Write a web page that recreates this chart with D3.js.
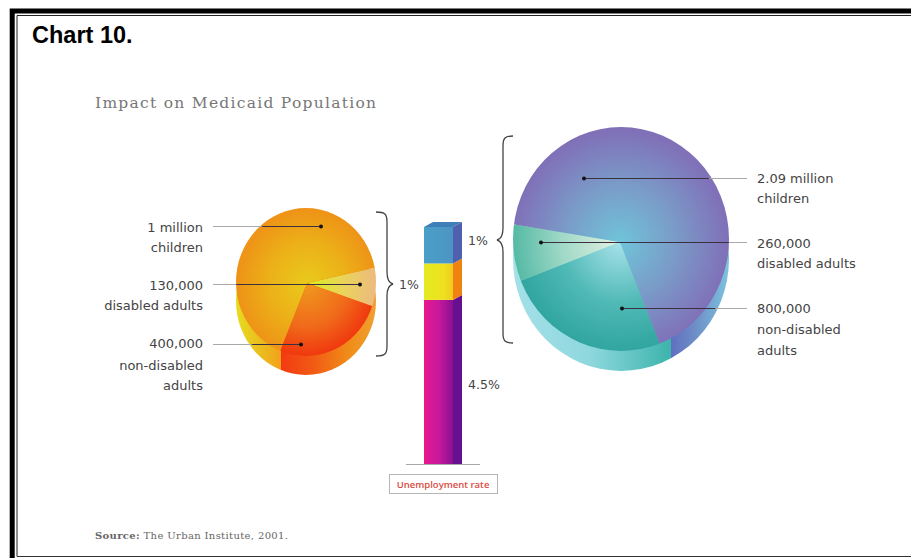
<!DOCTYPE html>
<html>
<head>
<meta charset="utf-8">
<script src="https://cdn.jsdelivr.net/npm/d3@7/dist/d3.min.js"></script>
<style>
html,body{margin:0;padding:0;background:#fff;}
svg{display:block;}
</style>
</head>
<body>
<svg id="chart" width="911" height="558"></svg>
<script>
// Medicaid population figures for each scenario, and the unemployment stack.
const leftPieOrder = ["disabled adults", "non-disabled adults", "children"];
const rightPieOrder = ["non-disabled adults", "disabled adults", "children"];
const leftPieValues = { "children": 1000000, "disabled adults": 130000, "non-disabled adults": 400000 };
const rightPieValues = { "children": 2090000, "disabled adults": 260000, "non-disabled adults": 800000 };
const barValues = [4.5, 1, 1];
const barLabels = [["4.5%", 468, 389], ["1%", 399, 289], ["1%", 468, 245]];
const leftLabels = [
  { lines: ["1 million", "children"], baselines: [232, 252], dot: [321, 226] },
  { lines: ["130,000", "disabled adults"], baselines: [290, 310], dot: [360, 284] },
  { lines: ["400,000", "non-disabled", "adults"], baselines: [348, 370, 390], dot: [301, 344] }
];
const rightLabels = [
  { lines: ["2.09 million", "children"], baselines: [183, 203], dot: [584, 178] },
  { lines: ["260,000", "disabled adults"], baselines: [248, 268], dot: [541, 242] },
  { lines: ["800,000", "non-disabled", "adults"], baselines: [313, 334, 355], dot: [622, 308] }
];

const svg = d3.select("#chart");
const defs = svg.append("defs");

// Page frame: heavy rule with a fine inner rule, open on the right.
svg.append("path").attr("d", "M12.2,558V11H911").attr("fill", "none").attr("stroke", "#000").attr("stroke-width", 5);
svg.append("path").attr("d", "M17,556.5V15.5H911").attr("fill", "none").attr("stroke", "#222").attr("stroke-width", 1);
svg.append("path").attr("d", "M17,556.5H911").attr("fill", "none").attr("stroke", "#333").attr("stroke-width", 1);

const sans = "'Liberation Sans', Arial, sans-serif";
const serif = "'DejaVu Serif', serif";
const labelFont = "'DejaVu Sans', sans-serif";

svg.append("text").text("Chart 10.").attr("x", 32).attr("y", 43)
  .attr("font-family", sans).attr("font-weight", 700).attr("font-size", 23.5).attr("fill", "#000");
svg.append("text").text("Impact on Medicaid Population").attr("x", 95).attr("y", 108)
  .attr("font-family", serif).attr("font-size", 15.5).attr("fill", "#777").attr("textLength", 281);
const src = svg.append("text").attr("x", 95).attr("y", 539)
  .attr("font-family", serif).attr("font-size", 10).attr("fill", "#666").attr("textLength", 193);
src.append("tspan").text("Source:").attr("font-weight", 700);
src.append("tspan").text(" The Urban Institute, 2001.");

function radial(id, r, stops) {
  const g = defs.append("radialGradient").attr("id", id).attr("gradientUnits", "userSpaceOnUse")
    .attr("cx", 0).attr("cy", 0).attr("r", r);
  stops.forEach(s => g.append("stop").attr("offset", s[0]).attr("stop-color", s[1]));
}
function linear(id, x1, x2, stops) {
  const g = defs.append("linearGradient").attr("id", id).attr("gradientUnits", "userSpaceOnUse")
    .attr("x1", x1).attr("x2", x2).attr("y1", 0).attr("y2", 0);
  stops.forEach(s => g.append("stop").attr("offset", s[0]).attr("stop-color", s[1]));
}

// Extruded pie: a shifted rim oval, then the slices fanned from an off-centre apex and clipped to the face.
function drawPie(cfg) {
  const g = svg.append("g");
  const slug = k => cfg.id + k.replace(/\W/g, "");

  linear(cfg.id + "Rim", cfg.cx - cfg.rx, cfg.cx + cfg.rx, cfg.rim);
  g.append("ellipse").attr("cx", cfg.cx).attr("cy", cfg.cy + cfg.depth).attr("rx", cfg.rx).attr("ry", cfg.ry)
    .attr("fill", `url(#${cfg.id}Rim)`);

  defs.append("clipPath").attr("id", cfg.id + "Face").append("ellipse")
    .attr("cx", cfg.cx).attr("cy", cfg.cy).attr("rx", cfg.rx).attr("ry", cfg.ry);
  defs.append("clipPath").attr("id", cfg.id + "Solid").append("ellipse")
    .attr("cx", cfg.cx).attr("cy", cfg.cy + cfg.depth / 2).attr("rx", cfg.rx).attr("ry", cfg.ry + cfg.depth / 2);

  const pie = d3.pie().sort(null).value(d => d.value)
    .startAngle(cfg.start).endAngle(cfg.start + 2 * Math.PI);
  const arcs = pie(cfg.order.map(k => ({ key: k, value: cfg.values[k] })));
  const arc = d3.arc().innerRadius(0).outerRadius(130);

  Object.entries(cfg.grads).forEach(([k, stops]) => radial(slug(k), 100, stops));

  g.append("g").attr("clip-path", `url(#${cfg.id}Face)`)
    .append("g").attr("transform", `translate(${cfg.ax},${cfg.ay}) scale(${cfg.rx / 100},${cfg.ry / 100})`)
    .selectAll("path").data(arcs).join("path")
    .attr("d", arc)
    .attr("fill", d => `url(#${slug(d.data.key)})`);

  cfg.labels.forEach(l => {
    const [dx, dy] = l.dot;
    const leader = () => g.append("line").attr("x1", cfg.lineEnd).attr("x2", dx)
      .attr("y1", dy + .5).attr("y2", dy + .5).attr("stroke-width", 1);
    leader().attr("stroke", "#aaa");
    // Leader lines turn dark where they cross the pie.
    leader().attr("stroke", "#3a3040").attr("clip-path", `url(#${cfg.id}Solid)`);
    g.append("circle").attr("cx", dx).attr("cy", dy + .5).attr("r", 2).attr("fill", "#111");
    g.selectAll(null).data(l.lines).join("text").text(d => d)
      .attr("x", cfg.textX).attr("y", (d, i) => l.baselines[i])
      .attr("text-anchor", cfg.anchor)
      .attr("font-family", labelFont).attr("font-size", 13).attr("fill", "#444");
  });
}

drawPie({
  id: "lp", cx: 306, cy: 282, rx: 70, ry: 74, ax: 307, ay: 283, depth: 19, start: 78 * Math.PI / 180,
  order: leftPieOrder, values: leftPieValues, labels: leftLabels, lineEnd: 213, textX: 203, anchor: "end",
  rim: [[0, "#e6dc20"], [.25, "#eeb01c"], [.32, "#f3a01c"], [.32, "#f23a12"], [.55, "#f25a14"], [.8, "#f08c18"], [1, "#efa030"]],
  grads: {
    "children": [[0, "#e9ca1c"], [.55, "#ecb018"], [1, "#ee9317"]],
    "disabled adults": [[0, "#d9ec18"], [.5, "#ead558"], [1, "#ecba80"]],
    "non-disabled adults": [[0, "#ef9a1e"], [.6, "#f0691a"], [1, "#f0360e"]]
  }
});

drawPie({
  id: "rp", cx: 621, cy: 239, rx: 108, ry: 112, ax: 620, ay: 242, depth: 20, start: 158 * Math.PI / 180,
  order: rightPieOrder, values: rightPieValues, labels: rightLabels, lineEnd: 747, textX: 757, anchor: "start",
  rim: [[0, "#a4e0e8"], [.35, "#8fd8de"], [.72, "#3fb5ae"], [.73, "#3fb5ae"], [.73, "#5f6fc0"], [.85, "#6f90c8"], [1, "#7cc4de"]],
  grads: {
    "children": [[0, "#6fc4da"], [.5, "#7a9cc8"], [1, "#8070b8"]],
    "disabled adults": [[0, "#e4f2e2"], [.55, "#9fd8c6"], [1, "#52b9a4"]],
    "non-disabled adults": [[0, "#a8e2ea"], [.55, "#4fb9b6"], [1, "#2fa49e"]]
  }
});

// Unemployment stack: value scale runs up from the baseline.
const barY = d3.scaleLinear().domain([0, d3.sum(barValues)]).range([464, 227]);
const barX0 = 424, barW = 29, depthX = 9, depthY = 5;
const stack = barValues.reduce((acc, v) => {
  const b = acc.length ? acc[acc.length - 1].top : 0;
  acc.push({ bottom: b, top: b + v });
  return acc;
}, []);
const barFront = [
  [[0, "#e8188e"], [.5, "#c8189a"], [1, "#8a1094"]],
  [[0, "#e4ea20"], [.7, "#eee020"], [1, "#f2c81e"]],
  [[0, "#4aa0c8"], [1, "#4c94c4"]]
];
const barSide = ["#66108f", "#f08212", "#5060b0"];
const bar = svg.append("g");
stack.forEach((s, i) => {
  linear("barF" + i, barX0, barX0 + barW, barFront[i]);
  const y0 = barY(s.bottom), y1 = barY(s.top);
  bar.append("rect").attr("x", barX0).attr("y", y1).attr("width", barW).attr("height", y0 - y1).attr("fill", `url(#barF${i})`);
  const bot = i === 0 ? y0 : y0 - depthY;
  bar.append("path")
    .attr("d", `M${barX0 + barW},${y0}L${barX0 + barW + depthX},${bot}L${barX0 + barW + depthX},${y1 - depthY}L${barX0 + barW},${y1}Z`)
    .attr("fill", barSide[i]);
});
const barTop = barY(d3.sum(barValues));
bar.append("path")
  .attr("d", `M${barX0},${barTop}L${barX0 + depthX},${barTop - depthY}H${barX0 + barW + depthX}L${barX0 + barW},${barTop}Z`)
  .attr("fill", "#3e7fb8");
svg.append("line").attr("x1", 406).attr("x2", 480).attr("y1", 464.5).attr("y2", 464.5).attr("stroke", "#aaa");

svg.append("rect").attr("x", 389.5).attr("y", 474.5).attr("width", 108).attr("height", 19).attr("fill", "#fff").attr("stroke", "#b5b5b5");
svg.append("text").text("Unemployment rate").attr("x", 443).attr("y", 488).attr("text-anchor", "middle")
  .attr("font-family", "'Open Sans', sans-serif").attr("font-weight", 600).attr("font-size", 9.5).attr("fill", "#dc4a42");

barLabels.forEach(t => {
  svg.append("text").text(t[0]).attr("x", t[1]).attr("y", t[2])
    .attr("font-family", labelFont).attr("font-size", 12.5).attr("fill", "#444");
});

// Curly braces tying each pie to a point on the stack.
const braces = [
  "M376,212 C385,212 387,214 387,222 V272 C387,280 389,283 393,284 C389,285 387,288 387,296 V346 C387,354 385,356 376,356",
  "M513,136 C505,136 503,138 503,146 V228 C503,236 501,239 497,240 C501,241 503,244 503,252 V333 C503,341 505,343 513,343"
];
svg.selectAll(".brace").data(braces).join("path").attr("class", "brace").attr("d", d => d)
  .attr("fill", "none").attr("stroke", "#444").attr("stroke-width", 1.3);
</script>
</body>
</html>
